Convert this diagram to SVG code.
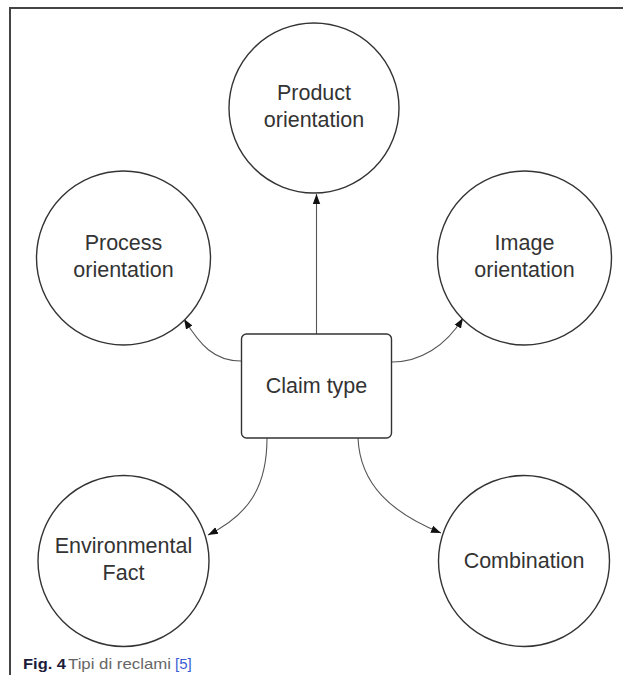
<svg xmlns="http://www.w3.org/2000/svg" width="623" height="675" viewBox="0 0 623 675">
<style>
.node{fill:#fff;stroke:#333;stroke-width:1.4}
.lbl{font-family:"Liberation Sans",Arial,sans-serif;font-size:21.5px;fill:#333;text-anchor:middle}
.conn{fill:none;stroke:#555;stroke-width:1.1}
.frame{fill:none;stroke:#444;stroke-width:2}
.cap{font-family:"Liberation Sans",Arial,sans-serif;font-size:15px}
</style>
<defs>
<marker id="arr" viewBox="0 0 10 10" refX="10" refY="5" markerWidth="10" markerHeight="10" markerUnits="userSpaceOnUse" orient="auto">
<path d="M0,1.3 L10,5 L0,8.7 Z" fill="#111"/>
</marker>
</defs>
<rect width="623" height="675" fill="#fff"/>
<path class="frame" d="M10,675 V8 H623"/>
<g id="connectors">
<path class="conn" d="M316.5,334 V194" marker-end="url(#arr)"/>
<path class="conn" d="M241,361 C214,361 200,345 184,319" marker-end="url(#arr)"/>
<path class="conn" d="M392,362 C420,362 446,346 463,318" marker-end="url(#arr)"/>
<path class="conn" d="M267,438 C267,488 248,515 208,535" marker-end="url(#arr)"/>
<path class="conn" d="M358,438 C360,485 392,513 441,533" marker-end="url(#arr)"/>
</g>
<g id="product">
<circle class="node" cx="314" cy="108" r="85"/>
<text class="lbl" x="314" y="100">Product</text>
<text class="lbl" x="314" y="127">orientation</text>
</g>
<g id="process">
<circle class="node" cx="123.5" cy="258" r="87"/>
<text class="lbl" x="123.5" y="250">Process</text>
<text class="lbl" x="123.5" y="277">orientation</text>
</g>
<g id="image">
<circle class="node" cx="524.5" cy="258" r="87"/>
<text class="lbl" x="524.5" y="250">Image</text>
<text class="lbl" x="524.5" y="277">orientation</text>
</g>
<g id="claim">
<rect class="node" x="241.5" y="334" width="150" height="104" rx="5"/>
<text class="lbl" x="316.5" y="393">Claim type</text>
</g>
<g id="environmental">
<circle class="node" cx="123.5" cy="561" r="85.5"/>
<text class="lbl" x="123.5" y="553">Environmental</text>
<text class="lbl" x="123.5" y="580">Fact</text>
</g>
<g id="combination">
<circle class="node" cx="524" cy="561" r="85.5"/>
<text class="lbl" x="524" y="568">Combination</text>
</g>
<g id="caption">
<text class="cap" x="23" y="669" font-weight="bold" fill="#1c1c3a" textLength="43" lengthAdjust="spacingAndGlyphs">Fig. 4</text>
<text class="cap" x="68" y="669" fill="#666" textLength="103" lengthAdjust="spacingAndGlyphs">Tipi di reclami</text>
<text class="cap" x="175" y="669" fill="#3b5bd6">[5]</text>
</g>
</svg>
